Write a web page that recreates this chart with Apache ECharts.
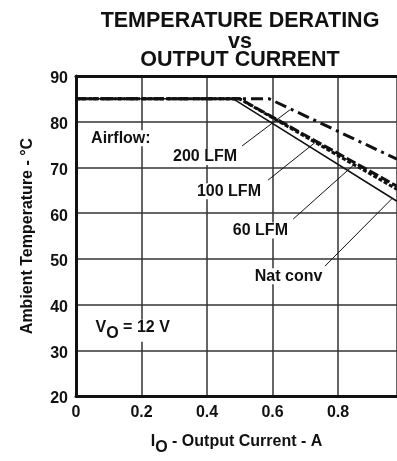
<!DOCTYPE html>
<html>
<head>
<meta charset="utf-8">
<script src="https://cdn.jsdelivr.net/npm/echarts@6/dist/echarts.min.js"></script>
<style>
  html, body { margin: 0; padding: 0; background: #fff; overflow: hidden; }
  #chart { width: 100vw; height: 100vh; }
</style>
</head>
<body>
<div id="chart"></div>
<script>
// Curve data: [output current A, ambient temp °C]
const natConv = [[0, 85], [0.48, 85], [0.98, 62.6]];
const lfm60 = [[0, 85], [0.5, 85], [0.98, 65.2]];
const lfm100 = [[0, 85], [0.5, 85], [0.98, 65.9]];
const lfm200 = [[0, 85], [0.59, 85], [0.98, 71.8]];

// Annotation anchors (data coords) and leader lines
const labelNames = ['Airflow:', '200 LFM', '100 LFM', '60 LFM', 'Nat conv'];
const labelPos = [[0.137, 76.4], [0.394, 72.3], [0.467, 64.8], [0.563, 56.2], [0.649, 46.2]];
const voutPos = [0.173, 34.3];
const leaders = [
  [[0.507, 74.7], [0.653, 82.6]],
  [[0.586, 67.2], [0.736, 75.8]],
  [[0.663, 58.7], [0.852, 70.8]],
  [[0.760, 48.4], [0.965, 63.2]],
];

const FONT = '"Liberation Sans", Arial, sans-serif';
const INK = '#111';
const FS = 16;

const chart = echarts.init(document.getElementById('chart'));

const titleBase = { left: 235, textAlign: 'center', textStyle: { fontFamily: FONT, fontWeight: 'bold', fontSize: 21.5, color: INK } };

// subscript rich styles: base text top-aligned, subscript bottom-aligned in a taller line
const subRich = {
  a: { fontFamily: FONT, fontWeight: 'bold', fontSize: FS, color: INK, lineHeight: 22, verticalAlign: 'top' },
  sub: { fontFamily: FONT, fontWeight: 'bold', fontSize: FS, color: INK, lineHeight: 22, verticalAlign: 'bottom' },
};

const option = {
  animation: false,
  backgroundColor: '#fff',
  title: [
    Object.assign({ text: 'TEMPERATURE DERATING', top: 5 }, titleBase),
    Object.assign({ text: 'vs', top: 26 }, titleBase),
    Object.assign({ text: 'OUTPUT CURRENT', top: 44 }, titleBase),
  ],
  grid: { left: 76, right: 0, top: 76, bottom: 56 },
  xAxis: [
    {
      type: 'value',
      min: 0,
      max: 0.98,
      interval: 0.2,
      name: '{a|I}{sub|O}{a| - Output Current - A}',
      nameLocation: 'middle',
      nameGap: 38,
      nameTextStyle: { rich: subRich },
      axisLine: { lineStyle: { color: INK, width: 3 } },
      axisTick: { show: false },
      axisLabel: { fontFamily: FONT, fontWeight: 'bold', fontSize: FS, color: INK, margin: 9, showMaxLabel: false },
      splitLine: { lineStyle: { color: '#333', width: 1.5 } },
    },
    {
      type: 'value',
      position: 'top',
      min: 0,
      max: 0.98,
      axisLine: { show: true, onZero: false, lineStyle: { color: INK, width: 3 } },
      axisTick: { show: false },
      axisLabel: { show: false },
      splitLine: { show: false },
    },
  ],
  yAxis: {
    type: 'value',
    min: 20,
    max: 90,
    interval: 10,
    name: 'Ambient Temperature - °C',
    nameLocation: 'middle',
    nameGap: 40,
    nameTextStyle: { fontFamily: FONT, fontWeight: 'bold', fontSize: FS, color: INK },
    axisLine: { show: true, lineStyle: { color: INK, width: 3 } },
    axisTick: { show: false },
    axisLabel: {
      margin: 8,
      formatter: (v) => '{t|' + v + '}',
      rich: { t: { fontFamily: FONT, fontWeight: 'bold', fontSize: FS, color: INK, padding: [6, 0, 0, 0] } },
    },
    splitLine: { lineStyle: { color: '#333', width: 1.5 } },
  },
  series: [
    {
      name: 'Nat conv', type: 'line', data: natConv, symbol: 'none',
      lineStyle: { color: INK, width: 1.5, type: 'solid' },
      markLine: {
        silent: true, symbol: 'none', label: { show: false },
        lineStyle: { color: INK, width: 1, type: 'solid' },
        data: leaders.map((l) => [{ coord: l[0] }, { coord: l[1] }]),
      },
    },
    { name: '60 LFM', type: 'line', data: lfm60, symbol: 'none', lineStyle: { color: INK, width: 3, type: [4, 2] } },
    { name: '100 LFM', type: 'line', data: lfm100, symbol: 'none', lineStyle: { color: INK, width: 3, type: [10, 3] } },
    { name: '200 LFM', type: 'line', data: lfm200, symbol: 'none', lineStyle: { color: INK, width: 3, type: [12, 5, 3, 5] } },
    {
      name: 'labels', type: 'scatter', symbolSize: 0, silent: true,
      itemStyle: { opacity: 1 },
      data: labelPos.map((p, i) => ({ value: p, name: labelNames[i] })),
      label: {
        show: true, position: 'inside', formatter: '{b}',
        fontFamily: FONT, fontWeight: 'bold', fontSize: FS, color: INK,
        backgroundColor: '#fff', padding: [0, 2],
      },
      z: 5,
    },
    {
      name: 'vout', type: 'scatter', symbolSize: 0, silent: true,
      itemStyle: { opacity: 1 },
      data: [{ value: voutPos }],
      label: {
        show: true, position: 'inside', backgroundColor: '#fff',
        formatter: '{a|V}{sub|O}{a| = 12 V}',
        rich: subRich,
      },
      z: 5,
    },
  ],
};

chart.setOption(option);
window.addEventListener('resize', () => chart.resize());
</script>
</body>
</html>
